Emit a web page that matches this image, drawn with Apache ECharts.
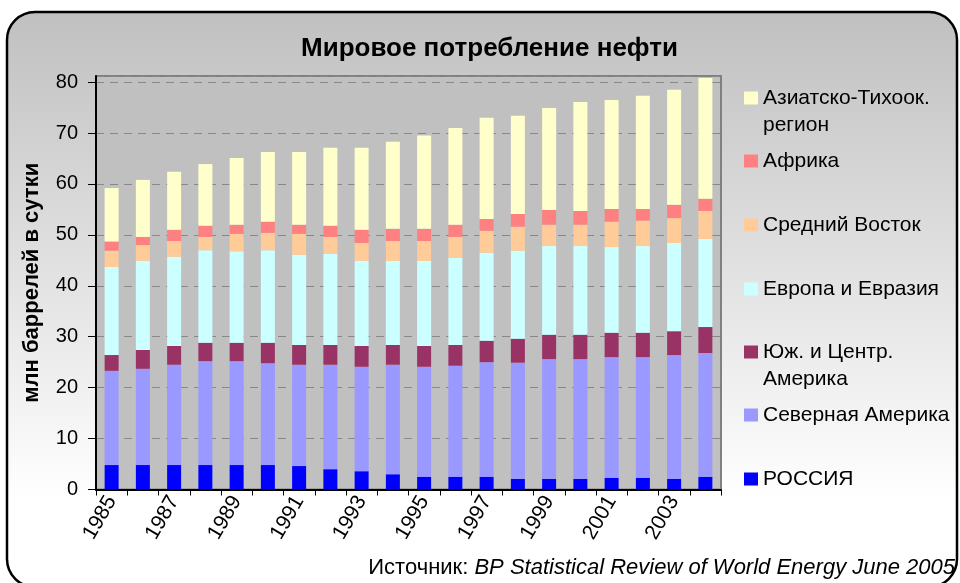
<!DOCTYPE html>
<html>
<head>
<meta charset="utf-8">
<script src="https://cdn.jsdelivr.net/npm/echarts@6/dist/echarts.min.js"></script>
<style>
html, body { margin: 0; padding: 0; background: #fff; }
#chart { width: 960px; height: 583px; }
</style>
</head>
<body>
<div id="chart"></div>
<script>
var years = ['1985', '1986', '1987', '1988', '1989', '1990', '1991', '1992', '1993', '1994',
    '1995', '1996', '1997', '1998', '1999', '2000', '2001', '2002', '2003', '2004'];

// млн баррелей в сутки, по регионам (снизу вверх)
var russia = [4.8, 4.8, 4.8, 4.8, 4.8, 4.8, 4.6, 4.0, 3.6, 3.0, 2.5, 2.5, 2.5, 2.1, 2.1, 2.1, 2.3, 2.3, 2.1, 2.5];
var northAmerica = [18.5, 18.9, 19.7, 20.4, 20.4, 20.0, 19.9, 20.5, 20.5, 21.5, 21.6, 21.8, 22.5, 22.8, 23.5, 23.5, 23.7, 23.7, 24.3, 24.3];
var southAmerica = [3.1, 3.7, 3.7, 3.6, 3.6, 4.0, 3.9, 3.9, 4.1, 3.9, 4.1, 4.1, 4.2, 4.7, 4.8, 4.8, 4.8, 4.8, 4.7, 5.1];
var europe = [17.3, 17.5, 17.5, 18.2, 18.0, 18.2, 17.7, 17.9, 16.7, 16.5, 16.7, 17.1, 17.3, 17.3, 17.4, 17.4, 16.8, 17.0, 17.3, 17.3];
var middleEast = [3.2, 3.1, 3.1, 2.6, 3.4, 3.4, 4.1, 3.3, 3.5, 3.9, 3.9, 4.1, 4.3, 4.7, 4.2, 4.2, 5.0, 5.0, 4.9, 5.5];
var africa = [1.8, 1.6, 2.2, 2.2, 1.8, 2.2, 1.8, 2.2, 2.6, 2.4, 2.4, 2.4, 2.3, 2.5, 2.9, 2.7, 2.5, 2.3, 2.6, 2.4];
var asiaPacific = [10.5, 11.2, 11.4, 12.1, 13.1, 13.7, 14.3, 15.3, 16.1, 17.1, 18.3, 19.0, 19.9, 19.3, 20.0, 21.4, 21.4, 22.2, 22.6, 23.7];

var seriesNames = ['РОССИЯ', 'Северная Америка', 'Юж. и Центр. Америка', 'Европа и Евразия',
    'Средний Восток', 'Африка', 'Азиатско-Тихоок. регион'];
var seriesData = [russia, northAmerica, southAmerica, europe, middleEast, africa, asiaPacific];
var colors = ['#0000ff', '#9999ff', '#993366', '#ccffff', '#ffcc99', '#ff8080', '#ffffcc'];

// legend text as shown (wrapped entries get an empty first line so the marker sits on line 1)
var legendLabels = {
    'Азиатско-Тихоок. регион': '\nАзиатско-Тихоок.\nрегион',
    'Юж. и Центр. Америка': '\nЮж. и Центр.\nАмерика'
};
var legendOrder = ['Азиатско-Тихоок. регион', 'Африка', 'Средний Восток', 'Европа и Евразия',
    'Юж. и Центр. Америка', 'Северная Америка', 'РОССИЯ'];
var legendCenters = [98, 161, 225, 289, 352, 415, 479];

var font = 'Liberation Sans, Arial, sans-serif';
var lineH = 27;

var legends = legendOrder.map(function (name, i) {
    var wrapped = !!legendLabels[name];
    return {
        data: [name],
        orient: 'vertical',
        left: 744,
        top: legendCenters[i] - (wrapped ? lineH * 1.5 : lineH / 2),
        padding: 0,
        icon: 'rect',
        itemWidth: 14,
        itemHeight: 13,
        selectedMode: false,
        formatter: function (n) { return legendLabels[n] || n; },
        textStyle: { color: '#000', fontSize: 21, fontFamily: font, lineHeight: lineH }
    };
});

var series = seriesNames.map(function (name, i) {
    return {
        name: name,
        type: 'bar',
        stack: 'total',
        barWidth: 14,
        clip: false,
        itemStyle: { color: colors[i] },
        data: seriesData[i]
    };
});

var myChart = echarts.init(document.getElementById('chart'));
var option = {
    backgroundColor: '#ffffff',
    animation: false,
    graphic: [{
        type: 'rect',
        z: -10,
        silent: true,
        shape: { x: 7, y: 12, width: 950, height: 575, r: 28 },
        style: {
            fill: {
                type: 'linear', x: 0, y: 0, x2: 0, y2: 1,
                colorStops: [{ offset: 0, color: '#c0c0c0' }, { offset: 0.85, color: '#ffffff' }]
            },
            stroke: '#000',
            lineWidth: 2.5
        }
    }],
    title: [{
        text: 'Мировое потребление нефти',
        left: 296,
        top: 31,
        textStyle: { color: '#000', fontSize: 26, fontWeight: 'bold', fontFamily: font }
    }, {
        text: '{a|Источник: }{b|BP Statistical Review of World Energy June 2005}',
        right: 5,
        top: 557,
        padding: 0,
        textStyle: {
            fontWeight: 'normal',
            rich: {
                a: { color: '#000', fontSize: 22, fontFamily: font, fontWeight: 'normal' },
                b: { color: '#000', fontSize: 22, fontFamily: font, fontWeight: 'normal', fontStyle: 'italic' }
            }
        }
    }],
    legend: legends,
    grid: {
        left: 96,
        right: 239,
        top: 76,
        bottom: 93.5,
        show: true,
        backgroundColor: '#c0c0c0',
        borderColor: '#808080',
        borderWidth: 2
    },
    xAxis: {
        type: 'category',
        data: years,
        boundaryGap: true,
        axisLine: { lineStyle: { color: '#000', width: 2 } },
        axisTick: { show: true, interval: 0, length: 6, lineStyle: { color: '#000' } },
        axisLabel: {
            interval: 1,
            rotate: 60,
            margin: 8,
            color: '#000',
            fontSize: 21,
            fontFamily: font
        }
    },
    yAxis: {
        type: 'value',
        min: 0,
        max: 81.2,
        interval: 10,
        name: 'млн баррелей в сутки',
        nameLocation: 'middle',
        nameRotate: 90,
        nameGap: 53,
        nameTextStyle: { color: '#000', fontSize: 22, fontWeight: 'bold', fontFamily: font },
        axisLine: { show: true, lineStyle: { color: '#000', width: 2 } },
        axisTick: { show: true, length: 8, lineStyle: { color: '#000' } },
        axisLabel: {
            showMaxLabel: false,
            margin: 18,
            color: '#000',
            fontSize: 20,
            fontFamily: font
        },
        splitLine: { show: true, lineStyle: { color: '#888', type: [8, 6], width: 1 } }
    },
    series: series
};
myChart.setOption(option);
</script>
</body>
</html>
